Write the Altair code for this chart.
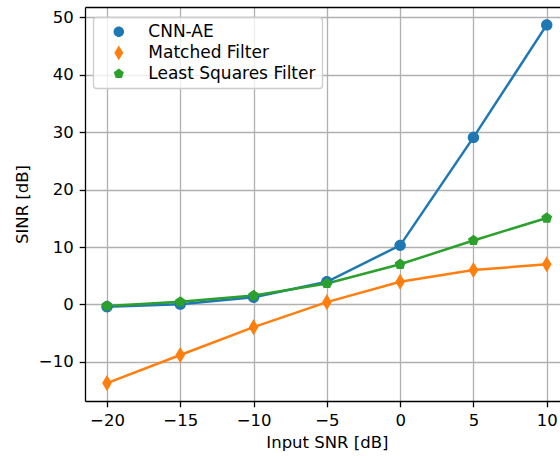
import altair as alt
import pandas as pd

snr = [-20, -15, -10, -5, 0, 5, 10]
series_names = ["CNN-AE", "Matched Filter", "Least Squares Filter"]
cnn_ae = [-0.4, 0.05, 1.25, 3.95, 10.3, 29.1, 48.7]
matched = [-13.7, -8.8, -3.95, 0.4, 3.95, 6.0, 7.0]
least_sq = [-0.25, 0.45, 1.55, 3.65, 7.0, 11.15, 15.05]
colors = ["#1f77b4", "#ff7f0e", "#2ca02c"]
x_ticks = [-20, -15, -10, -5, 0, 5, 10]
y_ticks = [-10, 0, 10, 20, 30, 40, 50]

rows = []
for name, vals in zip(series_names, [cnn_ae, matched, least_sq]):
    for s, v in zip(snr, vals):
        rows.append({"snr": s, "sinr": v, "series": name, "marker": name})
df = pd.DataFrame(rows)

# marker paths (unit = half marker size)
circle = "M1,0A1,1,0,1,1,-1,0A1,1,0,1,1,1,0Z"
thin_diamond = "M0,-1.414L0.849,0L0,1.414L-0.849,0Z"
pentagon = "M0,-1L0.951,-0.309L0.588,0.809L-0.588,0.809L-0.951,-0.309Z"
shapes = [circle, thin_diamond, pentagon]
# legend symbol: a filled thin bar (the line) plus the marker
seg = "M-3.4,-0.24H3.4V0.24H-3.4Z"
leg_circle = "M0.95,0A0.95,0.95,0,1,1,-0.95,0A0.95,0.95,0,1,1,0.95,0Z"
leg_diamond = "M0,-1.35L0.81,0L0,1.35L-0.81,0Z"
leg_pent = "M0,-0.95L0.9,-0.29L0.56,0.77L-0.56,0.77L-0.9,-0.29Z"
shape_expr = (
    f"datum.value == '{series_names[0]}' ? '{seg}{leg_circle}' : "
    f"datum.value == '{series_names[1]}' ? '{seg}{leg_diamond}' : '{seg}{leg_pent}'"
)
col_expr = (
    f"datum.value == '{series_names[0]}' ? '{colors[0]}' : "
    f"datum.value == '{series_names[1]}' ? '{colors[1]}' : '{colors[2]}'"
)

FONT = "DejaVu Sans"
x_scale = alt.Scale(domain=[-21.5, 10.906], nice=False, zero=False)
y_scale = alt.Scale(domain=[-16.82, 51.82], nice=False, zero=False)

legend = alt.Legend(
    title=None, orient="none", legendX=8.3, legendY=10.3,
    labelFont=FONT, labelFontSize=17, labelColor="black",
    symbolSize=110, symbolOffset=11, labelOffset=21, labelLimit=400,
    symbolType={"expr": shape_expr},
    symbolFillColor={"expr": col_expr},
    symbolStrokeColor={"expr": col_expr},
    symbolStrokeWidth=0, symbolOpacity=1,
)

x_enc = alt.X("snr:Q", scale=x_scale,
              axis=alt.Axis(values=x_ticks, format="d", title="Input SNR [dB]",
                            titleX=241.9))
y_enc = alt.Y("sinr:Q", scale=y_scale,
              axis=alt.Axis(values=y_ticks, format="d", title="SINR [dB]"))

lines = alt.Chart(df).mark_line(strokeWidth=2.5).encode(
    x=x_enc, y=y_enc,
    stroke=alt.Stroke("series:N", scale=alt.Scale(domain=series_names, range=colors),
                      sort=series_names, legend=legend),
    detail="series:N",
)

points = alt.Chart(df).mark_point(filled=True, size=130, opacity=1).encode(
    x=x_enc, y=y_enc,
    fill=alt.Fill("series:N", scale=alt.Scale(domain=series_names, range=colors),
                  sort=series_names, legend=None),
    shape=alt.Shape("marker:N", scale=alt.Scale(domain=series_names, range=shapes),
                    sort=series_names, legend=None),
)

top_spine = alt.Chart(df).mark_point(opacity=0).encode(
    x=alt.X("snr:Q", scale=x_scale,
            axis=alt.Axis(orient="top", labels=False, ticks=False, grid=False,
                          domain=True, title=None)),
    y=y_enc,
)

main = alt.layer(lines, points)

chart = alt.layer(main, top_spine).resolve_axis(x="independent").properties(
    width=475, height=394,
    autosize=alt.AutoSizeParams(type="none"),
    padding={"left": 85, "top": 7, "right": 0, "bottom": 55},
).configure_view(stroke=None).configure_axis(
    labelFont=FONT, labelFontSize=16.5, labelColor="black",
    titleFont=FONT, titleFontSize=16.5, titleColor="black", titleFontWeight="normal",
    domainColor="black", domainWidth=1.3,
    tickColor="black", tickWidth=1.3, tickSize=5.8,
    gridColor="#b0b0b0", gridWidth=1.3, labelPadding=6,
).configure_axisY(titlePadding=8).configure_axisX(titlePadding=5).configure_legend(
    rowPadding=3, padding=6, fillColor="rgba(255,255,255,0.8)", strokeColor="#cccccc",
    cornerRadius=3, strokeWidth=1.3,
)

chart.save("out.html", embed_options={"renderer": "svg", "actions": False})
